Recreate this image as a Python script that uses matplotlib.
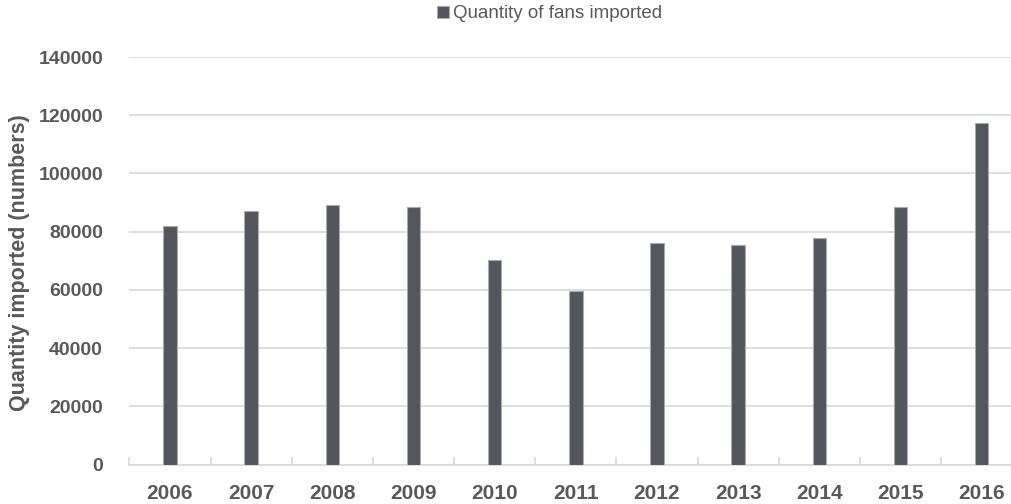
import matplotlib
matplotlib.use("Agg")
import matplotlib.pyplot as plt
from matplotlib.ticker import MultipleLocator, FixedLocator

years = ["2006", "2007", "2008", "2009", "2010", "2011", "2012", "2013", "2014", "2015", "2016"]
quantity = [82100, 87100, 89000, 88300, 70200, 59700, 76200, 75300, 77800, 88400, 117300]
series_name = "Quantity of fans imported"
y_label = "Quantity imported (numbers)"

plt.rcParams['font.family'] = ['Liberation Sans', 'DejaVu Sans']

W, H = 1012, 504
fig = plt.figure(figsize=(W / 100, H / 100), dpi=100)
left, right = 129.4, 1022.3
bottom, top = 464.5, 57.0
ax = fig.add_axes([left / W, (H - bottom) / H, (right - left) / W, (bottom - top) / H])

bar_color = "#53575d"
x = list(range(len(years)))
bars = ax.bar(x, quantity, width=0.165, color=bar_color, edgecolor="#a9abae",
              linewidth=0.8, zorder=3, label=series_name)

ax.set_xlim(-0.5, len(years) - 0.5)
ax.set_ylim(0, 140000)
ax.yaxis.set_major_locator(MultipleLocator(20000))
ax.grid(axis="y", color="#d9d9d9", linewidth=1.2, zorder=0)

for s in ["top", "right", "left"]:
    ax.spines[s].set_visible(False)
ax.spines["bottom"].set_color("#d9d9d9")
ax.spines["bottom"].set_linewidth(1.2)

ax.set_xticks(x)
ax.set_xticklabels(years, fontsize=15, fontweight="bold", color="#595959")
ax.tick_params(axis="x", which="major", length=0, pad=14)
ax.xaxis.set_minor_locator(FixedLocator([i - 0.5 for i in range(len(years) + 1)]))
ax.tick_params(axis="x", which="minor", direction="in", length=6, width=1.2, color="#d9d9d9")

ax.tick_params(axis="y", length=0, pad=19, labelsize=14, labelcolor="#595959")
for lbl in ax.get_yticklabels():
    lbl.set_fontweight("bold")

fig.text(20 / W, 1 - 263 / H, y_label, rotation=90, ha="center", va="center",
         fontsize=15.5, fontweight="bold", color="#595959")

leg = fig.legend(handles=[bars], labels=[series_name], loc="center",
                 bbox_to_anchor=(550 / W, 1 - 14 / H), frameon=False,
                 fontsize=13.5, handlelength=0.6, handleheight=0.6, handletextpad=0.25,
                 labelcolor="#595959")

fig.savefig("out.png", dpi=100)
